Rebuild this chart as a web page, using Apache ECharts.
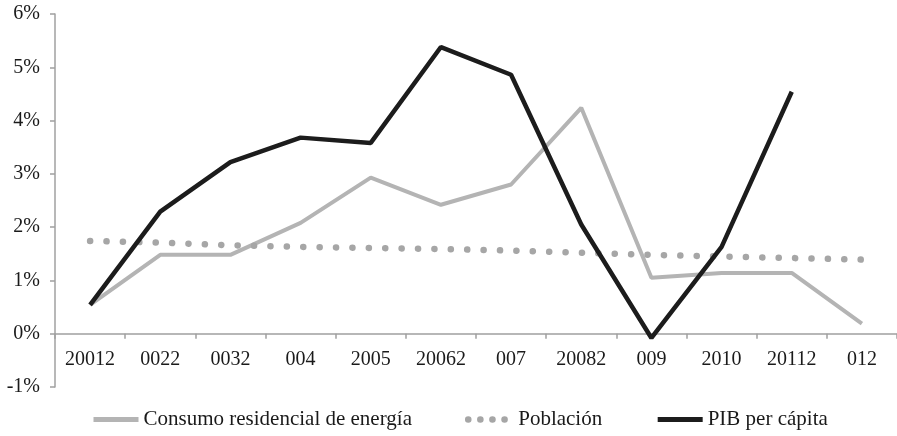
<!DOCTYPE html>
<html>
<head>
<meta charset="utf-8">
<script src="https://cdn.jsdelivr.net/npm/echarts@6/dist/echarts.min.js"></script>
<style>html,body{margin:0;padding:0;background:#fff}#c{width:897px;height:436px}</style>
</head>
<body>
<div id="c"></div>
<script>
const categories = ['20012','0022','0032','004','2005','20062','007','20082','009','2010','20112','012'];
const consumo = [0.54, 1.48, 1.48, 2.08, 2.93, 2.42, 2.80, 4.24, 1.05, 1.14, 1.14, 0.19];
const poblacion = [1.74, 1.71, 1.66, 1.63, 1.61, 1.59, 1.56, 1.52, 1.48, 1.45, 1.42, 1.39];
const pib = [0.54, 2.29, 3.22, 3.68, 3.58, 5.38, 4.86, 2.05, -0.08, 1.63, 4.54, null];
const seriesNames = ['Consumo residencial de energía', 'Población', 'PIB per cápita'];
const yTicks = {min: -1, max: 6, interval: 1};

const font = '"Liberation Serif", "DejaVu Serif", serif';
const gridTop = 14, gridBottom = 49, H = 436;
const unitPx = (H - gridTop - gridBottom) / (yTicks.max - yTicks.min);
const cGray = '#b4b4b4', cDot = '#a6a6a6', cBlack = '#1c1c1c';
const chart = echarts.init(document.getElementById('c'), null, {renderer: 'canvas'});
chart.setOption({
  animation: false,
  grid: {left: 55, right: 0, top: gridTop, bottom: gridBottom},
  legend: {
    left: 91, top: 409, padding: 0,
    itemWidth: 45, itemHeight: 8, itemGap: 53,
    itemStyle: {opacity: 0},
    textStyle: {fontFamily: font, fontSize: 21, color: '#1a1a1a'},
    data: [
      {name: seriesNames[0], lineStyle: {width: 5, color: cGray}},
      {name: seriesNames[1], lineStyle: {type: [0.1, 12], width: 6.5, cap: 'round', color: cDot}},
      {name: seriesNames[2], lineStyle: {width: 5, color: cBlack}}
    ]
  },
  xAxis: {
    type: 'category', data: categories, boundaryGap: true,
    position: 'bottom', offset: -(0 - yTicks.min) * unitPx,
    axisLine: {onZero: false, lineStyle: {color: '#a0a0a0', width: 1.5}},
    axisTick: {show: true, length: 5, lineStyle: {color: '#a0a0a0', width: 1.5}},
    axisLabel: {fontFamily: font, fontSize: 20, color: '#1a1a1a', margin: 16, interval: 0}
  },
  yAxis: {
    type: 'value', min: yTicks.min, max: yTicks.max, interval: yTicks.interval,
    axisLine: {show: true, lineStyle: {color: '#a0a0a0', width: 1.5}},
    axisTick: {show: true, length: 5, lineStyle: {color: '#a0a0a0', width: 1.5}},
    splitLine: {show: false},
    axisLabel: {fontFamily: font, fontSize: 20, color: '#1a1a1a', margin: 15, formatter: '{value}%'}
  },
  series: [
    {name: seriesNames[0], type: 'line', data: consumo, symbol: 'none',
     lineStyle: {color: cGray, width: 4}, itemStyle: {color: cGray}},
    {name: seriesNames[1], type: 'line', data: poblacion, symbol: 'none',
     lineStyle: {color: cDot, width: 6.5, type: [0.1, 16.3], cap: 'round'}, itemStyle: {color: cDot}},
    {name: seriesNames[2], type: 'line', data: pib, symbol: 'none',
     lineStyle: {color: cBlack, width: 4.5}, itemStyle: {color: cBlack}}
  ]
});
</script>
</body>
</html>
